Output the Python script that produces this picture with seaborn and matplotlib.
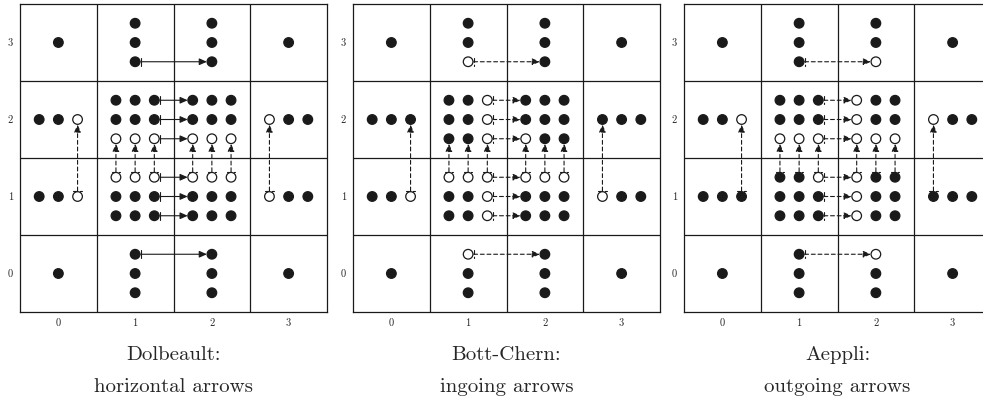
import numpy as np
import pandas as pd
import seaborn as sns
import matplotlib.pyplot as plt
from matplotlib.patches import ArrowStyle


# cells of the (p, q) diagram and how the classes are laid out in them
single_cells = [(0, 0), (0, 3), (3, 0), (3, 3)]
column_cells = [(1, 0), (2, 0), (1, 3), (2, 3)]
row_cells = [(0, 1), (0, 2), (3, 1), (3, 2)]
block_cells = [(1, 1), (1, 2), (2, 1), (2, 2)]
offsets = [-0.25, 0, 0.25]

# empty circles in each panel
open_dolbeault = [(0.25, 2), (0.25, 1), (2.75, 2), (2.75, 1),
                  (0.75, 1.75), (1, 1.75), (1.25, 1.75), (1.75, 1.75), (2, 1.75), (2.25, 1.75),
                  (0.75, 1.25), (1, 1.25), (1.25, 1.25), (1.75, 1.25), (2, 1.25), (2.25, 1.25)]
open_bottchern = [(1, 2.75), (1, 0.25), (0.25, 1), (2.75, 1),
                  (1.25, 2.25), (1.25, 2), (1.25, 1.75), (1.75, 1.75),
                  (0.75, 1.25), (1, 1.25), (1.25, 1.25), (1.75, 1.25), (2, 1.25), (2.25, 1.25),
                  (1.25, 1), (1.25, 0.75)]
open_aeppli = [(2, 2.75), (2, 0.25), (0.25, 2), (2.75, 2),
               (0.75, 1.75), (1, 1.75), (1.25, 1.75),
               (1.75, 2.25), (1.75, 2), (1.75, 1.75), (2, 1.75), (2.25, 1.75),
               (1.25, 1.25), (1.75, 1.25), (1.75, 1), (1.75, 0.75)]

# arrows (start, end), the same in every panel
h_arrows = [((1.25, 2.25), (1.75, 2.25)), ((1.25, 2), (1.75, 2)), ((1.25, 1.75), (1.75, 1.75)),
            ((1.25, 1.25), (1.75, 1.25)), ((1.25, 1), (1.75, 1)), ((1.25, 0.75), (1.75, 0.75)),
            ((1, 2.75), (2, 2.75)), ((1, 0.25), (2, 0.25))]
v_arrows = [((0.75, 1.25), (0.75, 1.75)), ((1, 1.25), (1, 1.75)), ((1.25, 1.25), (1.25, 1.75)),
            ((1.75, 1.25), (1.75, 1.75)), ((2, 1.25), (2, 1.75)), ((2.25, 1.25), (2.25, 1.75)),
            ((0.25, 1), (0.25, 2)), ((2.75, 1), (2.75, 2))]

panels = ["Dolbeault", "Bott-Chern", "Aeppli"]
open_dots = [open_dolbeault, open_bottchern, open_aeppli]
titles = ["Dolbeault:\nhorizontal arrows", "Bott-Chern:\ningoing arrows", "Aeppli:\noutgoing arrows"]
h_dashed = [False, True, True]
v_dashed = [True, True, True]
tick_labels = ["0", "1", "2", "3"]


def build_dots(open_list):
    pts = []
    for p, q in single_cells:
        pts.append((p, q))
    for p, q in column_cells:
        for d in offsets:
            pts.append((p, q + d))
    for p, q in row_cells:
        for d in offsets:
            pts.append((p + d, q))
    for p, q in block_cells:
        for dy in offsets:
            for dx in offsets:
                pts.append((p + dx, q + dy))
    df = pd.DataFrame(pts, columns=["p", "q"])
    opens = {(round(x, 2), round(y, 2)) for x, y in open_list}
    df["kind"] = ["open" if (round(x, 2), round(y, 2)) in opens else "filled"
                  for x, y in zip(df.p, df.q)]
    return df


class BarHead(ArrowStyle._Curve):
    # |-----|>  (mapsto style arrow)
    arrow = "|-|>"

    def __init__(self, head_length=0.45, head_width=0.2, widthA=0.3):
        super().__init__(head_length=head_length, head_width=head_width,
                         widthA=widthA, lengthA=0)


sns.set_theme(style="white")
plt.rcParams["font.family"] = ["cmr10", "DejaVu Serif"]
plt.rcParams["axes.formatter.use_mathtext"] = True

fig = plt.figure(figsize=(9.83, 4.08), dpi=100)
W, H = 983, 408
lefts = [20, 353, 684]

for i, name in enumerate(panels):
    ax = fig.add_axes([lefts[i] / W, (H - 312) / H, 307 / W, 308 / H])
    dots = build_dots(open_dots[i])

    sns.scatterplot(data=dots, x="p", y="q", hue="kind",
                    palette={"filled": "#1a1a1a", "open": "white"},
                    edgecolor="#1a1a1a", linewidth=0.9, s=48,
                    legend=False, ax=ax, zorder=4)

    for arrows, dashed in [(h_arrows, h_dashed[i]), (v_arrows, v_dashed[i])]:
        for start, end in arrows:
            ax.annotate("", xy=end, xytext=start,
                        arrowprops=dict(arrowstyle=BarHead(), color="#1a1a1a", lw=0.8,
                                        linestyle=(0, (3.5, 2.5)) if dashed else "-",
                                        shrinkA=4.0, shrinkB=3.6, mutation_scale=10),
                        zorder=3)

    ax.set_xlim(-0.5, 3.5)
    ax.set_ylim(-0.5, 3.5)
    ax.set_xticks(range(4))
    ax.set_yticks(range(4))
    ax.set_xticklabels(tick_labels)
    ax.set_yticklabels(tick_labels)
    ax.set_xticks([0.5, 1.5, 2.5], minor=True)
    ax.set_yticks([0.5, 1.5, 2.5], minor=True)
    ax.grid(which="minor", color="#1a1a1a", lw=0.9)
    ax.grid(which="major", visible=False)
    ax.tick_params(which="both", length=0, labelsize=7.5, pad=5)
    ax.set_xlabel("")
    ax.set_ylabel("")
    for sp in ax.spines.values():
        sp.set_color("#1a1a1a")
        sp.set_linewidth(0.9)

    ax.text(0.5, -0.11, titles[i], transform=ax.transAxes, ha="center", va="top",
            fontsize=15, linespacing=2.0)

fig.savefig("out.png", dpi=100)
